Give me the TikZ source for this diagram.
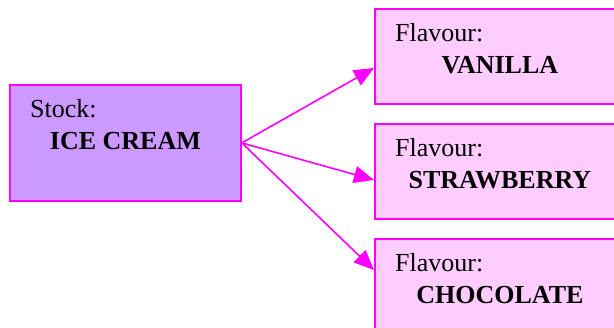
\documentclass[tikz,border=0pt]{standalone}
\usepackage{fontspec}
\setmainfont{Liberation Serif}
\usetikzlibrary{arrows.meta}

\definecolor{stockfill}{HTML}{CC99FF}
\definecolor{flavourfill}{HTML}{FFCCFF}
\definecolor{edgecol}{HTML}{FF00FF}

\tikzset{
	box/.style={draw=edgecol, line width=1.8pt, inner sep=0pt, anchor=north west,
		minimum width=250pt, minimum height=95pt},
	heading/.style={anchor=base west, inner sep=0pt},
	item/.style={anchor=base, inner sep=0pt, font=\fontsize{26}{30}\selectfont\bfseries},
	link/.style={draw=edgecol, line width=1.6pt, -{Triangle[length=20pt,width=17pt]}}
}

\begin{document}
\begin{tikzpicture}[x=1pt,y=-1pt, every node/.style={font=\fontsize{26}{30}\selectfont}]
		\useasboundingbox (0,0) rectangle (614,328);
		% Stock box
		\node[box,fill=stockfill,minimum width=231pt,minimum height=116pt] (stock) at (9,84) {};
		\node[heading] (stock-head) at ([xshift=21pt,yshift=-34pt]stock.north west) {Stock:};
		\node[item] (stock-name) at ([yshift=-66pt]stock.north) {ICE CREAM};
		% Flavour boxes and arrows
		\foreach \fl/\ytop/\fname/\ydrop in {vanilla/8/VANILLA/60, strawberry/123/STRAWBERRY/57, chocolate/238/CHOCOLATE/32} {
			\node[box,fill=flavourfill] (\fl) at (374,\ytop) {};
			\node[heading] (\fl-head) at ([xshift=21pt,yshift=-34pt]\fl.north west) {Flavour:};
			\node[item] (\fl-name) at ([yshift=-66pt]\fl.north) {\fname};
			\draw[link] (stock.east) -- ([yshift=-\ydrop pt]\fl.north west);
		}
\end{tikzpicture}
\end{document}
